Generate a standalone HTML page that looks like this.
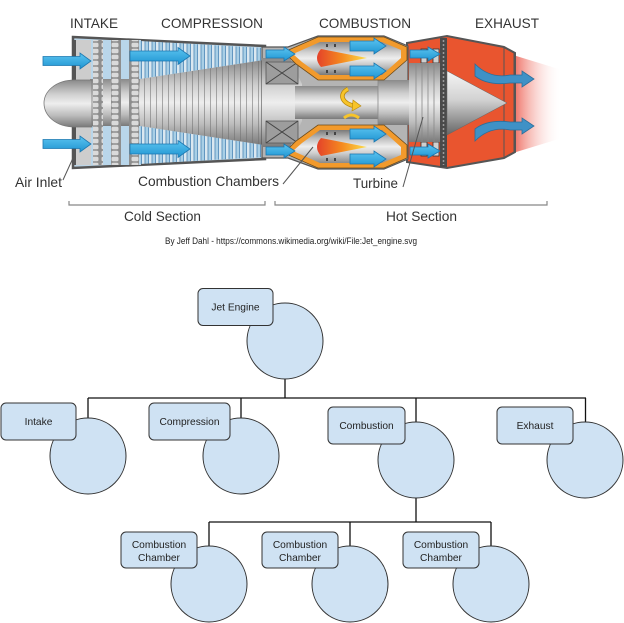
<!DOCTYPE html>
<html><head><meta charset="utf-8"><style>
html,body{margin:0;padding:0;background:#fff;}
svg{display:block;}
text{font-family:"Liberation Sans",Arial,sans-serif;}
</style></head><body>
<svg width="624" height="623" viewBox="0 0 624 623" xmlns="http://www.w3.org/2000/svg">
<defs>
<linearGradient id="metal" x1="0" y1="0" x2="0" y2="1">
<stop offset="0" stop-color="#8a8a8a"/><stop offset="0.3" stop-color="#cfcfcf"/><stop offset="0.5" stop-color="#eeeeee"/><stop offset="0.75" stop-color="#bdbdbd"/><stop offset="1" stop-color="#7a7a7a"/>
</linearGradient>
<linearGradient id="cone" x1="0" y1="0" x2="0" y2="1">
<stop offset="0" stop-color="#f5f5f5"/><stop offset="0.45" stop-color="#d2d2d2"/><stop offset="1" stop-color="#666"/>
</linearGradient>
<linearGradient id="fade" x1="0" y1="0" x2="1" y2="0">
<stop offset="0" stop-color="#ec5a4c" stop-opacity="0.9"/><stop offset="1" stop-color="#ffffff" stop-opacity="0"/>
</linearGradient>
<linearGradient id="flame" x1="0" y1="0" x2="1" y2="0">
<stop offset="0" stop-color="#e4422a"/><stop offset="0.5" stop-color="#f58a1f"/><stop offset="1" stop-color="#fde04b"/>
</linearGradient>
<linearGradient id="blue" x1="0" y1="0" x2="0" y2="1">
<stop offset="0" stop-color="#5cc4f0"/><stop offset="1" stop-color="#1f95d2"/>
</linearGradient>
<pattern id="bl" width="7" height="40" patternUnits="userSpaceOnUse">
<rect width="7" height="40" fill="#a9cfe6"/>
<rect x="1.5" y="-1" width="3.5" height="42" fill="#dbe8f0" stroke="#4a86b5" stroke-width="0.8"/>
</pattern>
<pattern id="vl" width="6" height="10" patternUnits="userSpaceOnUse">
<rect x="0" y="0" width="1" height="10" fill="#6f6f6f" fill-opacity="0.55"/>
</pattern>
<pattern id="chain" width="10" height="6" patternUnits="userSpaceOnUse">
<rect width="10" height="6" fill="#8e8e8e"/>
<rect x="1.5" y="0.8" width="7" height="4.4" rx="1.5" fill="#dadada"/>
</pattern>
</defs>

<!-- ===== ENGINE ===== -->
<polygon points="513,55 562,70 562,138 513,153" fill="url(#fade)"/>
<polygon points="407,43 447,36 504,47 515,53 515,152 504,158 447,168 407,162" fill="#e9552f" stroke="#555" stroke-width="2"/>
<line x1="504" y1="47" x2="504" y2="158" stroke="#555" stroke-width="1"/>
<line x1="514" y1="52" x2="514" y2="153" stroke="#555" stroke-width="1"/>

<polygon points="73,37 265,46 265,159 73,168" fill="#bcd5e6" stroke="#555" stroke-width="2.5"/>
<rect x="75" y="40" width="16" height="125" fill="#cdcdcd"/>
<line x1="75" y1="40" x2="75" y2="165" stroke="#555" stroke-width="2"/>
<rect x="91" y="40" width="50" height="40" fill="#b9d6ea"/>
<rect x="91" y="125" width="50" height="40" fill="#b9d6ea"/>
<polygon points="140,41 264,48 264,60 140,79" fill="url(#bl)"/>
<polygon points="140,164 264,157 264,145 140,126" fill="url(#bl)"/>
<rect x="90" y="79" width="51" height="47" fill="url(#metal)"/>
<polygon points="140,79 264,60 264,145 140,126" fill="url(#metal)"/>
<polygon points="140,79 264,60 264,145 140,126" fill="url(#vl)"/>
<rect x="93" y="40" width="10" height="125" fill="url(#chain)"/>
<rect x="111" y="40" width="10" height="125" fill="url(#chain)"/>
<rect x="129" y="40" width="10" height="125" fill="url(#chain)"/>
<path d="M92 80 L75 80 C55 80 44 92 44 103 C44 115 55 127 75 127 L92 127 Z" fill="url(#metal)" stroke="#777" stroke-width="0.8"/>

<polygon points="262,47 288,47 318,36 384,36 408,46 408,159 384,169 318,169 288,158 262,158" fill="#b4b4b4" stroke="#555" stroke-width="1.2"/>
<polygon points="262,58 290,58 302,84 302,121 290,147 262,147" fill="url(#metal)"/>
<rect x="295" y="86" width="115" height="33" fill="url(#metal)"/>
<rect x="378" y="80" width="32" height="45" fill="url(#metal)"/>
<line x1="378" y1="80" x2="378" y2="125" stroke="#888" stroke-width="0.8"/>

<g>
<polygon points="266,62 298,62 298,84 266,84" fill="#9d9d9d" stroke="#555" stroke-width="0.8"/>
<line x1="266" y1="62" x2="298" y2="84" stroke="#444" stroke-width="1"/>
<line x1="266" y1="84" x2="298" y2="62" stroke="#444" stroke-width="1"/>
<polygon points="284,52 318,37 384,37 407,47 407,60 384,80 318,80 296,64" fill="#f29a2c" stroke="#6b4a1a" stroke-width="0.8"/>
<polygon points="293,54 320,42 382,42 401,50 401,58 382,75 320,75 302,62" fill="url(#metal)"/>
<path d="M321 49 Q313 58 321 67 L367 58 Z" fill="url(#flame)"/>
<rect x="326" y="44" width="2" height="3" fill="#444"/><rect x="334" y="44" width="2" height="3" fill="#444"/><rect x="326" y="70" width="2" height="3" fill="#444"/><rect x="334" y="70" width="2" height="3" fill="#444"/>
<rect x="421" y="49" width="6" height="14" fill="#cfcfcf" stroke="#333" stroke-width="0.8"/>
<rect x="433" y="49" width="6" height="14" fill="#cfcfcf" stroke="#333" stroke-width="0.8"/>
</g>
<g transform="matrix(1,0,0,-1,0,205)">
<polygon points="266,62 298,62 298,84 266,84" fill="#9d9d9d" stroke="#555" stroke-width="0.8"/>
<line x1="266" y1="62" x2="298" y2="84" stroke="#444" stroke-width="1"/>
<line x1="266" y1="84" x2="298" y2="62" stroke="#444" stroke-width="1"/>
<polygon points="284,52 318,37 384,37 407,47 407,60 384,80 318,80 296,64" fill="#f29a2c" stroke="#6b4a1a" stroke-width="0.8"/>
<polygon points="293,54 320,42 382,42 401,50 401,58 382,75 320,75 302,62" fill="url(#metal)"/>
<path d="M321 49 Q313 58 321 67 L367 58 Z" fill="url(#flame)"/>
<rect x="326" y="44" width="2" height="3" fill="#444"/><rect x="334" y="44" width="2" height="3" fill="#444"/><rect x="326" y="70" width="2" height="3" fill="#444"/><rect x="334" y="70" width="2" height="3" fill="#444"/>
<rect x="421" y="49" width="6" height="14" fill="#cfcfcf" stroke="#333" stroke-width="0.8"/>
<rect x="433" y="49" width="6" height="14" fill="#cfcfcf" stroke="#333" stroke-width="0.8"/>
</g>

<rect x="409" y="63" width="32" height="79" fill="url(#metal)"/>
<line x1="416" y1="63" x2="416" y2="142" stroke="#888" stroke-width="0.8"/>
<line x1="422" y1="63" x2="422" y2="142" stroke="#888" stroke-width="0.8"/>
<line x1="428" y1="63" x2="428" y2="142" stroke="#888" stroke-width="0.8"/>
<line x1="434" y1="63" x2="434" y2="142" stroke="#888" stroke-width="0.8"/>
<rect x="440" y="38" width="7" height="129" fill="#4a4a4a"/>
<line x1="443.5" y1="40" x2="443.5" y2="165" stroke="#9a9a9a" stroke-width="1.5" stroke-dasharray="2 2"/>
<polygon points="447,71 507,103 447,135" fill="url(#cone)" stroke="#666" stroke-width="0.5"/>

<g fill="url(#blue)" stroke="#1b77b0" stroke-width="0.8">
<path d="M43 56.5 L80 56.5 L80 53 L91 61 L80 69 L80 65.5 L43 65.5 Z"/>
<path d="M130 51 L178 51 L178 47.5 L190 56 L178 64.5 L178 61 L130 61 Z"/>
<path d="M266 50 L284 50 L284 47 L295 54 L284 61 L284 58 L266 58 Z"/>
<path d="M350 41 L374 41 L374 38 L386 46 L374 54 L374 51 L350 51 Z"/>
<path d="M350 66 L374 66 L374 63 L386 71 L374 79 L374 76 L350 76 Z"/>
<path d="M410 50 L428 50 L428 47 L440 54 L428 61 L428 58 L410 58 Z"/>
</g>
<g fill="url(#blue)" stroke="#1b77b0" stroke-width="0.8">
<path d="M43 139.5 L80 139.5 L80 136 L91 144 L80 152 L80 148.5 L43 148.5 Z"/>
<path d="M130 144 L178 144 L178 140.5 L190 149 L178 157.5 L178 154 L130 154 Z"/>
<path d="M266 147 L284 147 L284 144 L295 151 L284 158 L284 155 L266 155 Z"/>
<path d="M350 154 L374 154 L374 151 L386 159 L374 167 L374 164 L350 164 Z"/>
<path d="M350 129 L374 129 L374 126 L386 134 L374 142 L374 139 L350 139 Z"/>
<path d="M410 147 L428 147 L428 144 L440 151 L428 158 L428 155 L410 155 Z"/>
</g>
<path d="M475 64 Q490 79 510 75 L522 75 L522 71 L534 79 L522 87 L522 83 L510 83 Q488 86 475 76 Z" fill="#3f91c6" stroke="#2a6f9c" stroke-width="0.8"/>
<path d="M475 141 Q490 126 510 130 L522 130 L522 134 L534 126 L522 118 L522 122 L510 122 Q488 119 475 129 Z" fill="#3f91c6" stroke="#2a6f9c" stroke-width="0.8"/>

<path d="M348 89 C338 94 342 104 355 106" fill="none" stroke="#b8860b" stroke-width="4.5"/>
<path d="M348 89 C338 94 342 104 355 106" fill="none" stroke="#f7c42a" stroke-width="3"/>
<polygon points="353,100 361,106 352,111" fill="#f7c42a" stroke="#b8860b" stroke-width="0.6"/>
<path d="M344 118 Q351 112 359 118" fill="none" stroke="#f7c42a" stroke-width="3"/>

<line x1="63" y1="180" x2="73" y2="158" stroke="#555" stroke-width="1"/>
<line x1="283" y1="184" x2="313" y2="147" stroke="#555" stroke-width="1"/>
<line x1="403" y1="187" x2="423" y2="117" stroke="#555" stroke-width="1"/>

<path d="M69 201 L69 205 L265 205 L265 201" fill="none" stroke="#888" stroke-width="1.2"/>
<path d="M275 201 L275 205 L547 205 L547 201" fill="none" stroke="#888" stroke-width="1.2"/>

<g fill="#333" font-size="14">
<text x="70" y="28" textLength="48" lengthAdjust="spacingAndGlyphs">INTAKE</text>
<text x="161" y="28" textLength="102" lengthAdjust="spacingAndGlyphs">COMPRESSION</text>
<text x="319" y="28" textLength="92" lengthAdjust="spacingAndGlyphs">COMBUSTION</text>
<text x="475" y="28" textLength="64" lengthAdjust="spacingAndGlyphs">EXHAUST</text>
<text x="15" y="187" textLength="47" lengthAdjust="spacingAndGlyphs">Air Inlet</text>
<text x="138" y="186" textLength="141" lengthAdjust="spacingAndGlyphs">Combustion Chambers</text>
<text x="353" y="188" textLength="45" lengthAdjust="spacingAndGlyphs">Turbine</text>
<text x="124" y="221" textLength="77" lengthAdjust="spacingAndGlyphs">Cold Section</text>
<text x="386" y="221" textLength="71" lengthAdjust="spacingAndGlyphs">Hot Section</text>
</g>
<text x="165" y="244" font-size="9" fill="#222" textLength="252" lengthAdjust="spacingAndGlyphs">By Jeff Dahl - https://commons.wikimedia.org/wiki/File:Jet_engine.svg</text>

<!-- ===== TREE ===== -->
<g stroke="#111" stroke-width="1.3" fill="none">
<line x1="285" y1="379" x2="285" y2="398"/>
<line x1="88" y1="398" x2="586" y2="398"/>
<line x1="88" y1="398" x2="88" y2="418"/>
<line x1="241" y1="398" x2="241" y2="418"/>
<line x1="416" y1="398" x2="416" y2="422"/>
<line x1="585.5" y1="398" x2="585.5" y2="422"/>
<line x1="416" y1="498" x2="416" y2="522"/>
<line x1="209" y1="522" x2="491" y2="522"/>
<line x1="209" y1="522" x2="209" y2="546"/>
<line x1="350" y1="522" x2="350" y2="546"/>
<line x1="491" y1="522" x2="491" y2="546"/>
</g>
<g fill="#cfe2f3" stroke="#333" stroke-width="1">
<circle cx="285" cy="341" r="38"/>
<circle cx="88" cy="456" r="38"/>
<circle cx="241" cy="456" r="38"/>
<circle cx="416" cy="460" r="38"/>
<circle cx="585" cy="460" r="38"/>
<circle cx="209" cy="584" r="38"/>
<circle cx="350" cy="584" r="38"/>
<circle cx="491" cy="584" r="38"/>
<rect x="198" y="288.5" width="75" height="37" rx="5"/>
<rect x="1" y="403" width="75" height="37" rx="5"/>
<rect x="149" y="403" width="81" height="37" rx="5"/>
<rect x="328" y="407" width="77" height="37" rx="5"/>
<rect x="497" y="407" width="76" height="37" rx="5"/>
<rect x="121" y="532" width="76" height="36" rx="5"/>
<rect x="262" y="532" width="76" height="36" rx="5"/>
<rect x="403" y="532" width="76" height="36" rx="5"/>
</g>
<g fill="#222" font-size="10.2" text-anchor="middle">
<text x="235.5" y="310.5">Jet Engine</text>
<text x="38.5" y="425">Intake</text>
<text x="189.5" y="425">Compression</text>
<text x="366.5" y="429">Combustion</text>
<text x="535" y="429">Exhaust</text>
<text x="159" y="548">Combustion</text>
<text x="159" y="561">Chamber</text>
<text x="300" y="548">Combustion</text>
<text x="300" y="561">Chamber</text>
<text x="441" y="548">Combustion</text>
<text x="441" y="561">Chamber</text>
</g>
</svg>
</body></html>
